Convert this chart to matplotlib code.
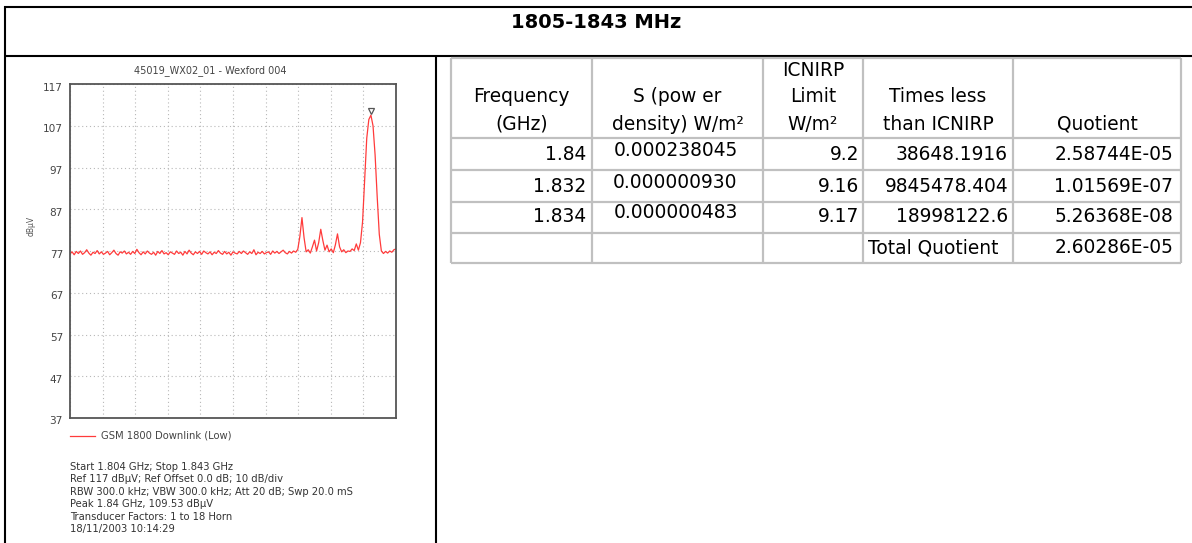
import numpy as np
import matplotlib
matplotlib.use("Agg")
import matplotlib.pyplot as plt
from matplotlib.lines import Line2D
from matplotlib.transforms import ScaledTranslation

# ---------------- data ----------------
page_title = "1805-1843 MHz"
chart_title = "45019_WX02_01 - Wexford 004"
trace_name = "GSM 1800 Downlink (Low)"
y_label = "dBµV"

sweep_start_ghz = 1.804
sweep_stop_ghz = 1.843
y_ticks = [37, 47, 57, 67, 77, 87, 97, 107, 117]
x_divisions = 10

trace_dbuv = [
    76.3, 76.8, 76.1, 76.9, 76.4, 77.0, 76.2, 76.6, 77.3, 76.5,
    76.0, 76.7, 76.4, 77.1, 76.3, 76.8, 76.2, 76.5, 76.9, 76.1,
    76.6, 77.2, 76.4, 76.0, 76.8, 76.5, 77.0, 76.3, 76.7, 76.2,
    76.9, 76.4, 77.4, 76.6, 76.1, 76.8, 76.3, 77.0, 76.5, 76.2,
    76.7, 76.0, 76.9, 76.4, 77.1, 76.3, 76.6, 76.1, 76.8, 76.5,
    76.2, 77.0, 76.4, 76.7, 76.0, 76.9, 76.3, 77.2, 76.5, 76.1,
    76.8, 76.4, 76.9, 76.2, 77.0, 76.6, 76.3, 76.8, 76.1, 76.7,
    76.4, 77.1, 76.5, 76.2, 76.9, 76.3, 76.7, 76.0, 76.8, 76.5,
    76.3, 76.9, 76.4, 77.0, 76.6, 76.2, 76.8, 76.4, 77.3, 76.1,
    76.7, 76.4, 76.9, 76.3, 76.6, 76.8, 76.2, 77.0, 76.5, 76.9,
    76.4, 76.8, 77.2, 76.6, 76.3, 76.9, 76.5, 77.0, 76.7, 77.4,
    80.5, 85.0, 80.2, 76.8, 77.3, 76.5, 78.0, 79.6, 77.0, 79.0,
    82.2, 79.5, 77.2, 78.4, 76.8, 77.5, 76.6, 78.5, 81.1, 78.0,
    76.8, 77.3, 76.6, 77.0, 76.9, 77.5, 77.1, 78.7, 77.2, 79.0,
    84.0, 94.0, 104.0, 108.5, 109.53, 107.0, 100.0, 90.0, 81.0, 77.0,
    76.4, 76.9, 76.5, 77.0, 76.7, 77.3, 77.5,
]
peak_freq_ghz = 1.84
peak_level_dbuv = 109.53
marker_level_dbuv = 110.6

info_lines = [
    "Start 1.804 GHz; Stop 1.843 GHz",
    "Ref 117 dBµV; Ref Offset 0.0 dB; 10 dB/div",
    "RBW 300.0 kHz; VBW 300.0 kHz; Att 20 dB; Swp 20.0 mS",
    "Peak 1.84 GHz, 109.53 dBµV",
    "Transducer Factors: 1 to 18 Horn",
    "18/11/2003 10:14:29",
]

header_cells = [
    ["Frequency", "(GHz)"],
    ["S (pow er", "density) W/m²"],
    ["ICNIRP", "Limit", "W/m²"],
    ["Times less", "than ICNIRP"],
    ["Quotient"],
]
freq_ghz = ["1.84", "1.832", "1.834"]
power_density = ["0.000238045", "0.000000930", "0.000000483"]
icnirp_limit = ["9.2", "9.16", "9.17"]
times_less = ["38648.1916", "9845478.404", "18998122.6"]
quotient = ["2.58744E-05", "1.01569E-07", "5.26368E-08"]
total_label = "Total Quotient"
total_quotient = "2.60286E-05"

# ---------------- layout ----------------
W, H = 1192, 543
plt.rcParams['font.family'] = ['DejaVu Sans']
fig = plt.figure(figsize=(W / 100, H / 100), dpi=100)


def fx(x):
    return x / W


def fy(y):
    return 1 - y / H


def hline(x0, x1, y, color="black", lw=1.5):
    fig.add_artist(Line2D([fx(x0), fx(x1)], [fy(y), fy(y)], color=color,
                          lw=lw, solid_capstyle="butt"))


def vline(x, y0, y1, color="black", lw=1.5):
    fig.add_artist(Line2D([fx(x), fx(x)], [fy(y0), fy(y1)], color=color,
                          lw=lw, solid_capstyle="butt"))


# outer frame
hline(4, W, 6.5)
hline(4, W, 55.7)
vline(4.7, 6, H)
vline(436, 55.7, H)

fig.text(fx(W / 2), fy(22), page_title, ha="center", va="center",
         fontsize=14, fontweight="bold")

# ---------------- spectrum chart ----------------
ax_l, ax_r, ax_t, ax_b = 70, 396, 84, 418
ax = fig.add_axes([fx(ax_l), fy(ax_b), fx(ax_r - ax_l), (ax_b - ax_t) / H])
freqs = np.linspace(sweep_start_ghz, sweep_stop_ghz, len(trace_dbuv))
ax.plot(freqs, trace_dbuv, color="#ff3b3b", lw=0.9)
ax.plot([peak_freq_ghz], [marker_level_dbuv], marker="v", ms=4.5,
        mfc="white", mec="#555555", mew=0.9, ls="none")
ax.set_xlim(sweep_start_ghz, sweep_stop_ghz)
ax.set_ylim(y_ticks[0], y_ticks[-1])
ax.set_yticks(y_ticks)
ax.set_yticklabels([str(t) for t in y_ticks])
ax.set_xticks(np.linspace(sweep_start_ghz, sweep_stop_ghz, x_divisions + 1))
ax.tick_params(axis="x", length=0, labelbottom=False)
ax.tick_params(axis="y", length=0, pad=5, labelsize=7.6, labelcolor="#444444")
shift = ScaledTranslation(0, -2.5 / 100, fig.dpi_scale_trans)
for lab in ax.get_yticklabels():
    lab.set_transform(lab.get_transform() + shift)
ax.grid(True, ls=(0, (1, 2.5)), color="#b8b8b8", lw=0.8)
for s in ax.spines.values():
    s.set_color("#555555")
    s.set_linewidth(1.3)

fig.text(fx(210), fy(71), chart_title, ha="center", va="center",
         fontsize=7, color="#444444")
fig.text(fx(31), fy(226), y_label, ha="center", va="center", rotation=90,
         fontsize=5.5, color="#555555")

# legend
fig.add_artist(Line2D([fx(70), fx(95)], [fy(436), fy(436)], color="#ff3b3b", lw=0.9))
fig.text(fx(101), fy(436), trace_name, ha="left", va="center",
         fontsize=7.2, color="#444444")

for i, line in enumerate(info_lines):
    fig.text(fx(70), fy(467 + 12.4 * i), line, ha="left", va="center",
             fontsize=7.2, color="#333333")

# ---------------- table ----------------
col_x = [451, 592, 763, 863, 1013, 1181]
row_y = [58, 138, 170, 202, 233, 263]
grid_c = "#c0c0c0"
for x in col_x:
    vline(x, row_y[0], row_y[-1], color=grid_c, lw=1.6)
for y in row_y:
    hline(col_x[0], col_x[-1], y, color=grid_c, lw=1.6)

tfs = 13.4
# header: bottom aligned, centered
for ci, lines in enumerate(header_cells):
    cx = (col_x[ci] + col_x[ci + 1]) / 2
    n = len(lines)
    for li, t in enumerate(lines):
        yy = 124 - 27 * (n - 1 - li)
        fig.text(fx(cx), fy(yy), t, ha="center", va="center", fontsize=tfs)

data_rows_y = [155, 187, 217]
s_rows_y = [150, 182, 212]
for ri in range(3):
    fig.text(fx(col_x[1] - 6), fy(data_rows_y[ri]), freq_ghz[ri], ha="right",
             va="center", fontsize=tfs)
    fig.text(fx((col_x[1] + col_x[2]) / 2 - 2), fy(s_rows_y[ri]), power_density[ri],
             ha="center", va="center", fontsize=tfs)
    fig.text(fx(col_x[3] - 4), fy(data_rows_y[ri]), icnirp_limit[ri], ha="right",
             va="center", fontsize=tfs)
    fig.text(fx(col_x[4] - 5), fy(data_rows_y[ri]), times_less[ri], ha="right",
             va="center", fontsize=tfs)
    fig.text(fx(col_x[5] - 8), fy(data_rows_y[ri]), quotient[ri], ha="right",
             va="center", fontsize=tfs)

fig.text(fx(col_x[3] + 5), fy(248), total_label, ha="left", va="center", fontsize=tfs)
fig.text(fx(col_x[5] - 8), fy(248), total_quotient, ha="right", va="center", fontsize=tfs)

fig.savefig("out.png", dpi=100)
